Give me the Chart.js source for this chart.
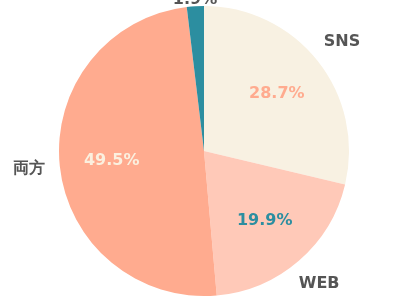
<!DOCTYPE html>
<html>
<head>
<meta charset="utf-8">
<script src="https://cdn.jsdelivr.net/npm/chart.js@4"></script>
<style>
    html, body { margin: 0; padding: 0; background: #ffffff; }
    #wrap { width: 400px; height: 300px; }
</style>
</head>
<body>
<div id="wrap"><canvas id="pieChart" width="400" height="300"></canvas></div>
<script>
// Chart data
const categories = ['SNS', 'WEB', '両方', ''];
const shares = [28.7, 19.9, 49.5, 1.9];
const sliceColors = ['#F8F1E2', '#FFC9B8', '#FFAB8F', '#2C8EA0'];
const valueColors = ['#FFAB8F', '#2C8EA0', '#FBF0DF', '#555555'];

// Draw percent labels inside slices and names outside
const pieLabels = {
    id: 'pieLabels',
    afterDatasetsDraw(chart) {
        const ctx = chart.ctx;
        const arcs = chart.getDatasetMeta(0).data;
        ctx.save();
        ctx.textAlign = 'center';
        ctx.textBaseline = 'middle';
        arcs.forEach((arc, i) => {
            const p = arc.getProps(['x', 'y', 'startAngle', 'endAngle', 'outerRadius']);
            const mid = (p.startAngle + p.endAngle) / 2;
            const small = shares[i] < 5;
            const rv = small ? p.outerRadius + 6 : p.outerRadius * 0.64;
            ctx.font = 'bold 16px "DejaVu Sans", sans-serif';
            ctx.fillStyle = valueColors[i];
            ctx.fillText(shares[i].toFixed(1) + '%', p.x + Math.cos(mid) * rv, p.y + Math.sin(mid) * rv);
            if (categories[i]) {
                const rc = p.outerRadius + 31;
                ctx.font = 'bold 16px "DejaVu Sans", sans-serif';
                ctx.fillStyle = '#555555';
                ctx.fillText(categories[i], p.x + Math.cos(mid) * rc, p.y + Math.sin(mid) * rc);
            }
        });
        ctx.restore();
    }
};

new Chart(document.getElementById('pieChart'), {
    type: 'pie',
    data: {
        labels: categories,
        datasets: [{
            data: shares,
            backgroundColor: sliceColors,
            borderWidth: 0
        }]
    },
    options: {
        responsive: false,
        animation: false,
        layout: {
            padding: { left: 59, right: 51, top: 6, bottom: 4 }
        },
        plugins: {
            legend: { display: false },
            tooltip: { enabled: false }
        }
    },
    plugins: [pieLabels]
});
</script>
</body>
</html>
